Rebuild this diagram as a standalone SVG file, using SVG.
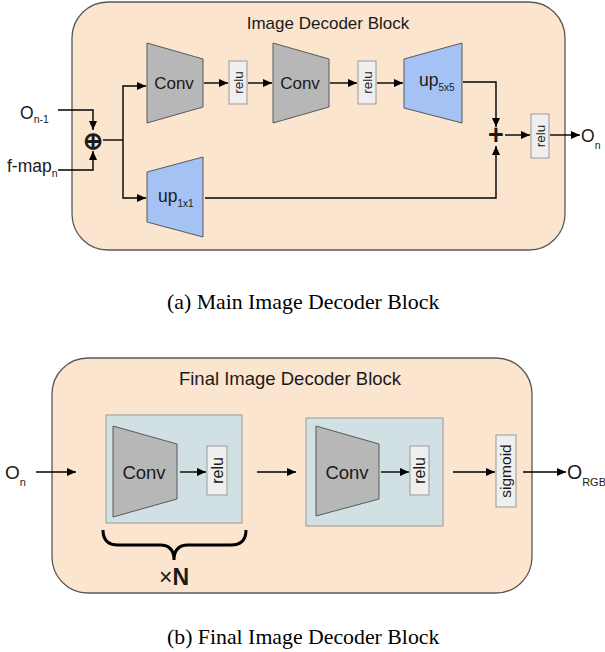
<svg xmlns="http://www.w3.org/2000/svg" width="605" height="652" viewBox="0 0 605 652">
<defs>
<marker id="ah" markerUnits="userSpaceOnUse" markerWidth="10" markerHeight="8" refX="9" refY="4" orient="auto">
<path d="M0,0 L9,4 L0,8 z" fill="#000"/>
</marker>
<style>
.blk{fill:#fbe5cf;stroke:#595959;stroke-width:1.3}
.conv{fill:#b7b7b7;stroke:#595959;stroke-width:1}
.up{fill:#a4c2f4;stroke:#595959;stroke-width:1}
.act{fill:#efefef;stroke:#999;stroke-width:1}
.inner{fill:#d0e0e3;stroke:#999;stroke-width:1}
.t{font-family:"Liberation Sans",Arial,sans-serif;fill:#1a1a1a}
.cap{font-family:"Liberation Serif","Times New Roman",serif;fill:#000;font-size:21.8px}
.ln{fill:none;stroke:#000;stroke-width:1.4}
.ar{fill:none;stroke:#000;stroke-width:1.4;marker-end:url(#ah)}
</style>
</defs>
<rect width="605" height="652" fill="#fff"/>

<g id="main-block">
<rect class="blk" x="72" y="2" width="493" height="248" rx="36"/>
<text class="t" x="328" y="29" font-size="17" text-anchor="middle">Image Decoder Block</text>
</g>
<g id="in-o">
<text class="t" x="20" y="119" font-size="17.5">O<tspan font-size="10.5" dy="4">n-1</tspan></text>
</g>
<g id="in-fmap">
<text class="t" x="7" y="172" font-size="17.5">f-map<tspan font-size="10.5" dy="5">n</tspan></text>
</g>
<g id="concat">
<text class="t" x="93" y="148.5" font-size="24" font-weight="bold" text-anchor="middle" font-family="DejaVu Sans" fill="#000">⊕</text>
</g>
<g id="conv1">
<polygon class="conv" points="147,43 203,59 203,107 147,123"/>
<text class="t" x="174" y="89" font-size="17" text-anchor="middle">Conv</text>
</g>
<g id="relu1">
<rect class="act" x="229" y="61" width="18" height="43"/>
<text class="t" transform="translate(242.5,82.5) rotate(-90)" font-size="13.5" text-anchor="middle">relu</text>
</g>
<g id="conv2">
<polygon class="conv" points="273,43 329,59 329,107 273,123"/>
<text class="t" x="300" y="89" font-size="17" text-anchor="middle">Conv</text>
</g>
<g id="relu2">
<rect class="act" x="358" y="61" width="18" height="43"/>
<text class="t" transform="translate(371.5,82.5) rotate(-90)" font-size="13.5" text-anchor="middle">relu</text>
</g>
<g id="up5">
<polygon class="up" points="404,59 462,43 462,123 404,108"/>
<text class="t" x="419" y="86" font-size="17.5">up<tspan font-size="10" dy="5">5x5</tspan></text>
</g>
<g id="up1">
<polygon class="up" points="147,172 203,157 203,237 147,222"/>
<text class="t" x="158" y="202" font-size="17.5">up<tspan font-size="10" dy="5">1x1</tspan></text>
</g>
<g id="add">
<text class="t" x="496" y="144" font-size="27" font-weight="bold" text-anchor="middle" fill="#000">+</text>
</g>
<g id="relu3">
<rect class="act" x="531" y="114" width="18" height="44"/>
<text class="t" transform="translate(544.5,136) rotate(-90)" font-size="13.5" text-anchor="middle">relu</text>
</g>
<g id="out-o">
<text class="t" x="581" y="142" font-size="17.5">O<tspan font-size="10.5" dy="7">n</tspan></text>
</g>

<g id="final-block">
<rect class="blk" x="52" y="358" width="480" height="235" rx="36"/>
<text class="t" x="290" y="385" font-size="18.5" text-anchor="middle">Final Image Decoder Block</text>
</g>
<g id="box1">
<rect class="inner" x="106" y="415" width="136" height="108"/>
<polygon class="conv" points="113,426 177,444 177,499 113,517"/>
<text class="t" x="144" y="479" font-size="18.5" text-anchor="middle">Conv</text>
<rect class="act" x="207" y="446" width="20" height="49"/>
<text class="t" transform="translate(222.5,470.5) rotate(-90)" font-size="16" text-anchor="middle">relu</text>
</g>
<g id="box2">
<rect class="inner" x="306" y="418" width="137" height="108"/>
<polygon class="conv" points="316,426 379,444 379,499 316,516"/>
<text class="t" x="347" y="479" font-size="18.5" text-anchor="middle">Conv</text>
<rect class="act" x="410" y="446" width="19" height="49"/>
<text class="t" transform="translate(425,470.5) rotate(-90)" font-size="16" text-anchor="middle">relu</text>
</g>
<g id="sigmoid">
<rect class="act" x="496" y="435" width="20" height="72"/>
<text class="t" transform="translate(511,471) rotate(-90)" font-size="15.5" text-anchor="middle">sigmoid</text>
</g>
<g id="in-on">
<text class="t" x="5" y="479" font-size="19">O<tspan font-size="11" dy="7">n</tspan></text>
</g>
<g id="out-rgb">
<text class="t" x="567" y="479" font-size="19.5">O<tspan font-size="11" dy="7">RGB</tspan></text>
</g>
<g id="repeat">
<path d="M103,530 Q103,545 118,545 H160 Q174,545 174,560 Q174,545 188,545 H231 Q246,545 246,530" fill="none" stroke="#000" stroke-width="3"/>
<text class="t" x="174" y="585" font-size="23" text-anchor="middle" fill="#000">×<tspan font-weight="bold">N</tspan></text>
</g>

<g id="connectors">
<path class="ar" d="M58,110 H93 V130"/>
<path class="ar" d="M58,170 H93 V151"/>
<path class="ln" d="M103,140 H123"/>
<path class="ar" d="M123,140 V86 H146"/>
<path class="ar" d="M123,140 V198 H146"/>
<path class="ar" d="M204,83 H228"/>
<path class="ar" d="M248,83 H272"/>
<path class="ar" d="M330,83 H357"/>
<path class="ar" d="M377,83 H403"/>
<path class="ar" d="M463,82 H496 V127"/>
<path class="ar" d="M205,198 H496 V146"/>
<path class="ar" d="M505,135 H530"/>
<path class="ar" d="M550,135 H580"/>
<path class="ar" d="M36,472 H76"/>
<path class="ar" d="M180,472 H206"/>
<path class="ar" d="M257,472 H296"/>
<path class="ar" d="M381,472 H409"/>
<path class="ar" d="M453,472 H495"/>
<path class="ar" d="M523,472 H566"/>
</g>

<g id="captions">
<text class="cap" x="167" y="309">(a) Main Image Decoder Block</text>
<text class="cap" x="167" y="644">(b) Final Image Decoder Block</text>
</g>
</svg>
